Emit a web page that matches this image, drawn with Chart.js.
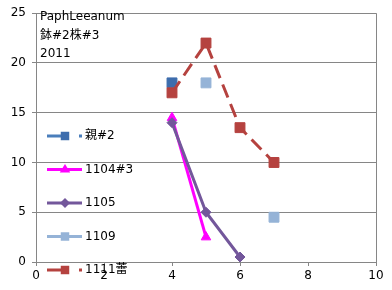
<!DOCTYPE html>
<html>
<head>
<meta charset="utf-8">
<script src="https://cdn.jsdelivr.net/npm/chart.js@4.4.0/dist/chart.umd.min.js"></script>
<style>
  html, body { margin: 0; padding: 0; background: #fff; }
  #wrap { position: relative; width: 392px; height: 290px; }
</style>
</head>
<body>
<div id="wrap"><canvas id="chart" width="392" height="290"></canvas></div>
<script>
// データ (x = 月?)
const xValues = [4, 5, 6, 7];
const seriesNames = ['親#2', '1104#3', '1105', '1109', '1111蕾'];
const oya2   = [18, null, null, null];
const s1104  = [14.5, 2.5, null, null];
const s1105  = [14, 5, 0.5, null];
const s1109  = [null, 18, null, 4.5];
const s1111  = [17, 22, 13.5, 10];
const titleLines = ['PaphLeeanum', '鉢#2株#3', '2011'];
const xTicks = [0, 2, 4, 6, 8, 10];
const yTicks = [0, 5, 10, 15, 20, 25];

const FONT = '"DejaVu Sans", "Noto Sans CJK JP", sans-serif';
const GRID = '#868686';

function toPoints(vals) {
    return xValues.map((x, i) => ({ x: x, y: vals[i] }));
}

const styles = [
    { line: '#4a7ebb', fill: '#3d6dad', shape: 'rect', r: 7, dash: [22, 10] },
    { line: '#ff00ff', fill: '#ff00ff', shape: 'triangle', r: 5.5, dash: [] },
    { line: '#73579b', fill: '#73579b', shape: 'rectRot', r: 5, dash: [] },
    { line: '#95b3d7', fill: '#95b3d7', shape: 'rect', r: 7, dash: [] },
    { line: '#b5423f', fill: '#b5423f', shape: 'rect', r: 7, dash: [14, 7] }
];
const allSeries = [oya2, s1104, s1105, s1109, s1111];

const datasets = allSeries.map((vals, i) => ({
    label: seriesNames[i],
    data: toPoints(vals),
    borderColor: styles[i].line,
    backgroundColor: styles[i].fill,
    pointBackgroundColor: styles[i].fill,
    pointBorderColor: styles[i].fill,
    pointBorderWidth: 1,
    pointStyle: styles[i].shape,
    pointRadius: styles[i].r,
    borderWidth: 3,
    borderDash: styles[i].dash,
    spanGaps: false,
    tension: 0,
    order: allSeries.length - i
}));

// 凡例マーカー
function drawMarker(ctx, shape, x, y, r, color) {
    ctx.save();
    ctx.fillStyle = color;
    ctx.setLineDash([]);
    ctx.beginPath();
    if (shape === 'rect') {
        const s = r * Math.SQRT1_2;
        ctx.rect(x - s, y - s, s * 2, s * 2);
    } else if (shape === 'triangle') {
        ctx.moveTo(x, y - r);
        ctx.lineTo(x + r * 0.95, y + r * 0.55);
        ctx.lineTo(x - r * 0.95, y + r * 0.55);
        ctx.closePath();
    } else {
        ctx.moveTo(x, y - r);
        ctx.lineTo(x + r, y);
        ctx.lineTo(x, y + r);
        ctx.lineTo(x - r, y);
        ctx.closePath();
    }
    ctx.fill();
    ctx.restore();
}

const overlay = {
    id: 'overlay',
    afterDraw(chart) {
        const ctx = chart.ctx;
        const area = chart.chartArea;
        ctx.save();
        // 右枠
        ctx.strokeStyle = GRID;
        ctx.lineWidth = 1;
        ctx.beginPath();
        ctx.moveTo(Math.round(area.right) + 0.5, area.top);
        ctx.lineTo(Math.round(area.right) + 0.5, area.bottom);
        ctx.stroke();

        // タイトル
        ctx.fillStyle = '#000';
        ctx.font = '12px ' + FONT;
        ctx.textBaseline = 'middle';
        ctx.textAlign = 'left';
        titleLines.forEach((t, i) => ctx.fillText(t, 40, 17 + i * 18.5));

        // 凡例
        chart.data.datasets.forEach((ds, i) => {
            const y = 136 + i * 33.5;
            const st = styles[i];
            ctx.save();
            ctx.strokeStyle = st.line;
            ctx.lineWidth = 3;
            ctx.setLineDash(st.dash.length ? [22, 10] : []);
            ctx.beginPath();
            ctx.moveTo(47, y);
            ctx.lineTo(82, y);
            ctx.stroke();
            ctx.restore();
            drawMarker(ctx, st.shape, 65, y, st.shape === 'rect' ? 6 : st.r, st.fill);
            ctx.fillStyle = '#000';
            ctx.fillText(ds.label, 85, y);
        });
        ctx.restore();
    }
};

new Chart(document.getElementById('chart'), {
    type: 'line',
    data: { datasets: datasets },
    plugins: [overlay],
    options: {
        responsive: false,
        animation: false,
        layout: { padding: { left: 0, top: 9, right: 16, bottom: 0 } },
        plugins: {
            legend: { display: false },
            tooltip: { enabled: false },
            title: { display: false }
        },
        scales: {
            x: {
                type: 'linear',
                min: 0, max: 10,
                afterBuildTicks: (scale) => { scale.ticks = xTicks.map(v => ({ value: v })); },
                afterFit: (scale) => { scale.height = 28; },
                grid: { drawOnChartArea: false, drawTicks: true, tickLength: 4, color: GRID },
                border: { color: GRID, width: 1 },
                ticks: { color: '#000', font: { family: FONT, size: 12 }, padding: 3, maxRotation: 0 }
            },
            y: {
                min: 0, max: 25,
                afterBuildTicks: (scale) => { scale.ticks = yTicks.map(v => ({ value: v })); },
                afterFit: (scale) => { scale.width = 36; },
                grid: { color: GRID, lineWidth: 1, tickLength: 4 },
                border: { color: GRID, width: 1 },
                ticks: { color: '#000', font: { family: FONT, size: 12 }, padding: 6 }
            }
        }
    }
});
</script>
</body>
</html>
